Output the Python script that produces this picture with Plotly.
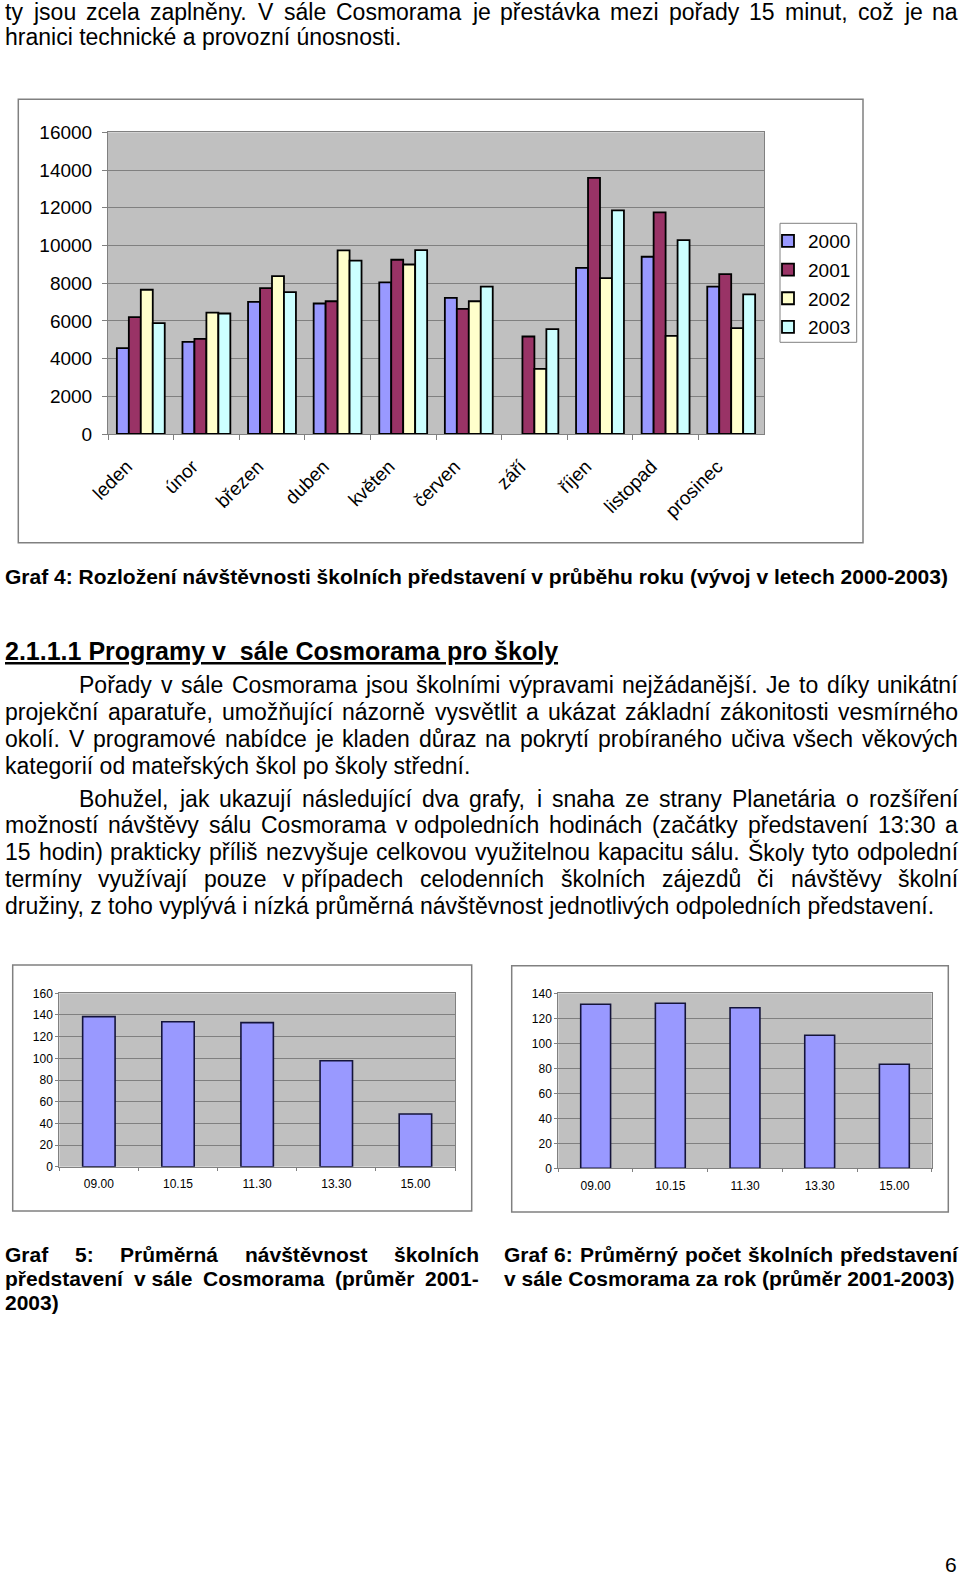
import unicodedata
import plotly.graph_objects as go

# --- data ---
months = ["leden", "únor", "březen", "duben", "květen", "červen",
          "září", "říjen", "listopad", "prosinec"]
years = ["2000", "2001", "2002", "2003"]
visits_2000 = [4550, 4890, 7010, 6920, 8040, 7220, None, 8810, 9400, 7820]
visits_2001 = [6200, 5040, 7740, 7040, 9240, 6640, 5170, 13580, 11750, 8480]
visits_2002 = [7650, 6440, 8370, 9740, 8990, 7040, 3450, 8270, 5200, 5610]
visits_2003 = [5880, 6390, 7520, 9190, 9750, 7820, 5560, 11860, 10280, 7400]
year_colors = ["#9999ff", "#993366", "#ffffcc", "#ccffff"]

show_times = ["09.00", "10.15", "11.30", "13.30", "15.00"]
avg_attendance = [138.5, 133.8, 132.9, 97.8, 48.6]
avg_shows = [131.2, 132.0, 128.5, 106.4, 83.2]

W, H = 960, 1576
FONT = "Liberation Sans, Arial, sans-serif"


def px(x):
    return x / W


def py(y):
    return 1 - y / H


# Arial advance widths (1/1000 em), used to spread justified lines
REG = dict(zip("abcdefghijklmnopqrstuvwxyz",
               [556, 556, 500, 556, 556, 278, 556, 556, 222, 222, 500, 222, 833,
                556, 556, 556, 556, 333, 500, 278, 556, 500, 722, 500, 500, 500]))
REG.update(dict(zip("ABCDEFGHIJKLMNOPQRSTUVWXYZ",
                    [667, 667, 722, 722, 667, 611, 778, 722, 278, 500, 667, 556, 833,
                     722, 778, 667, 778, 722, 667, 611, 722, 667, 944, 667, 667, 611])))
REG.update({" ": 278, "\u00a0": 278, ".": 278, ",": 278, ":": 278, "(": 333, ")": 333,
            "-": 333, "í": 278})
BOLD = dict(zip("abcdefghijklmnopqrstuvwxyz",
                [556, 611, 556, 611, 556, 333, 611, 611, 278, 278, 556, 278, 889,
                 611, 611, 611, 611, 389, 556, 333, 611, 556, 778, 556, 556, 500]))
BOLD.update(dict(zip("ABCDEFGHIJKLMNOPQRSTUVWXYZ",
                     [722, 722, 722, 722, 667, 611, 778, 722, 278, 556, 722, 611, 833,
                      722, 778, 667, 778, 722, 667, 611, 722, 667, 944, 667, 667, 611])))
BOLD.update({" ": 278, "\u00a0": 278, ".": 278, ",": 278, ":": 333, "(": 333, ")": 333,
             "-": 333, "í": 278})


def text_width(s, size, bold=False):
    table = BOLD if bold else REG
    total = 0
    for ch in s:
        if ch.isdigit():
            total += 556
        elif ch in table:
            total += table[ch]
        else:
            base = unicodedata.normalize("NFD", ch)[0]
            total += table.get(base, 556)
    return total * size / 1000


def add_line(fig, text, y, left, right=None, size=23, bold=False):
    """One line of page text; if right is given the words are spread (justified)."""
    font = dict(family=FONT, size=size, color="black")
    words = text.split(" ")
    if right is None or len(words) < 2:
        t = f"<b>{text}</b>" if bold else text
        fig.add_annotation(x=px(left), y=py(y), text=t, showarrow=False, xref="paper",
                           yref="paper", xanchor="left", yanchor="middle", font=font,
                           borderpad=0)
        return
    widths = [text_width(w, size, bold) for w in words]
    gap = (right - left - sum(widths)) / (len(words) - 1)
    x = left
    for w, ww in zip(words, widths):
        t = f"<b>{w}</b>" if bold else w
        fig.add_annotation(x=px(x), y=py(y), text=t, showarrow=False, xref="paper",
                           yref="paper", xanchor="left", yanchor="middle", font=font,
                           borderpad=0)
        x += ww + gap


fig = go.Figure()

# Graf 4 - grouped bars per month
for name, vals, col in zip(years, [visits_2000, visits_2001, visits_2002, visits_2003], year_colors):
    fig.add_trace(go.Bar(x=months, y=vals, name=name, legendgroup=name,
                         marker=dict(color=col, line=dict(color="black", width=1.8)),
                         xaxis="x", yaxis="y"))

# Graf 5 and Graf 6
fig.add_trace(go.Bar(x=show_times, y=avg_attendance, width=0.41, showlegend=False,
                     marker=dict(color="#9999ff", line=dict(color="#14143a", width=1.6)),
                     xaxis="x2", yaxis="y2"))
fig.add_trace(go.Bar(x=show_times, y=avg_shows, width=0.40, showlegend=False,
                     marker=dict(color="#9999ff", line=dict(color="#14143a", width=1.6)),
                     xaxis="x3", yaxis="y3"))

axis_common = dict(showline=True, linecolor="#808080", linewidth=1, mirror=True,
                   ticks="outside", tickcolor="#808080", color="black", zeroline=False,
                   automargin=False)

fig.update_layout(
    width=W, height=H, margin=dict(l=0, r=0, t=0, b=0, pad=0, autoexpand=False),
    paper_bgcolor="white", plot_bgcolor="#c0c0c0",
    font=dict(family=FONT, color="black"),
    barmode="group", bargap=0.27, bargroupgap=0,
    xaxis=dict(domain=[px(108), px(764)], anchor="y", type="category", tickson="boundaries",
               ticklen=5, tickangle=-45, tickfont=dict(size=19),
               ticklabelshift=-14, ticklabelstandoff=13, **axis_common),
    yaxis=dict(domain=[py(434), py(132.3)], anchor="x", range=[0, 16000], dtick=2000,
               tickformat="d", ticklen=5, gridcolor="#808080", tickfont=dict(size=19),
               ticklabelstandoff=6, **axis_common),
    xaxis2=dict(domain=[px(59.3), px(455)], anchor="y2", type="category", tickson="boundaries",
                ticklen=3, tickangle=0, tickfont=dict(size=12), ticklabelstandoff=6,
                **axis_common),
    yaxis2=dict(domain=[py(1166.7), py(993.3)], anchor="x2", range=[0, 160], dtick=20,
                ticklen=3, gridcolor="#808080", tickfont=dict(size=12), **axis_common),
    xaxis3=dict(domain=[px(558.3), px(931.7)], anchor="y3", type="category", tickson="boundaries",
                ticklen=3, tickangle=0, tickfont=dict(size=12), ticklabelstandoff=6,
                **axis_common),
    yaxis3=dict(domain=[py(1168.3), py(993.3)], anchor="x3", range=[0, 140], dtick=20,
                ticklen=3, gridcolor="#808080", tickfont=dict(size=12), **axis_common),
    legend=dict(x=px(768), y=py(222), xanchor="left", yanchor="top",
                bgcolor="rgba(0,0,0,0)", borderwidth=0, font=dict(size=19),
                tracegroupgap=1),
)

# chart frames and legend box
for x0, y0, x1, y1 in [(18.3, 99.3, 863, 542.7), (12.7, 965, 471.7, 1211),
                       (511.7, 965.7, 948.3, 1212)]:
    fig.add_shape(type="rect", xref="paper", yref="paper", x0=px(x0), y0=py(y0),
                  x1=px(x1), y1=py(y1), line=dict(color="#808080", width=1.5), layer="below")
fig.add_shape(type="rect", xref="paper", yref="paper", x0=px(780), y0=py(223.3),
              x1=px(856.7), y1=py(342.3), line=dict(color="#808080", width=1),
              fillcolor="white", layer="below")

# page text
L, R = 4, 957
add_line(fig, "ty jsou zcela zaplněny. V sále Cosmorama je přestávka mezi pořady 15 minut, což je na", 12, L, R)
add_line(fig, "hranici technické a provozní únosnosti.", 37, L)

add_line(fig, "Graf 4: Rozložení návštěvnosti školních představení v průběhu roku (vývoj v letech 2000-2003)",
         576, L, size=21, bold=True)

fig.add_annotation(x=px(L), y=py(651), xref="paper", yref="paper", showarrow=False,
                   xanchor="left", yanchor="middle", borderpad=0,
                   text="<b><u>2.1.1.1 Programy v\u00a0 sále Cosmorama pro školy</u></b>",
                   font=dict(family=FONT, size=25, color="black"))

add_line(fig, "Pořady v sále Cosmorama jsou školními výpravami nejžádanější. Je to díky unikátní", 685.5, 78.4, R)
add_line(fig, "projekční aparatuře, umožňující názorně vysvětlit a ukázat základní zákonitosti vesmírného", 711.6, L, R)
add_line(fig, "okolí. V programové nabídce je kladen důraz na pokrytí probíraného učiva všech věkových", 738.8, L, R)
add_line(fig, "kategorií od mateřských škol po školy střední.", 765.9, L)

add_line(fig, "Bohužel, jak ukazují následující dva grafy, i snaha ze strany Planetária o rozšíření", 799, 78.4, R)
add_line(fig, "možností návštěvy sálu Cosmorama v\u00a0odpoledních hodinách (začátky představení 13:30 a", 825.2, L, R)
add_line(fig, "15 hodin) prakticky příliš nezvyšuje celkovou využitelnou kapacitu sálu. Školy tyto odpolední", 852.3, L, R)
add_line(fig, "termíny využívají pouze v\u00a0případech celodenních školních zájezdů či návštěvy školní", 878.5, L, R)
add_line(fig, "družiny, z toho vyplývá i nízká průměrná návštěvnost jednotlivých odpoledních představení.", 905.6, L)

add_line(fig, "Graf 5: Průměrná návštěvnost školních", 1254.4, L, 478, size=21, bold=True)
add_line(fig, "představení v\u00a0sále Cosmorama (průměr 2001-", 1278.5, L, 478, size=21, bold=True)
add_line(fig, "2003)", 1302.6, L, size=21, bold=True)
add_line(fig, "Graf 6: Průměrný počet školních představení", 1254.4, 502.6, 957, size=21, bold=True)
add_line(fig, "v sále Cosmorama za rok (průměr 2001-2003)", 1278.5, 502.6, size=21, bold=True)

fig.add_annotation(x=px(958), y=py(1564), xref="paper", yref="paper", showarrow=False,
                   xanchor="right", yanchor="middle", text="6", borderpad=0,
                   font=dict(family=FONT, size=21, color="black"))

fig.write_html("out.html", config={"displayModeBar": False},
               post_script="document.body.style.margin = '0';")
